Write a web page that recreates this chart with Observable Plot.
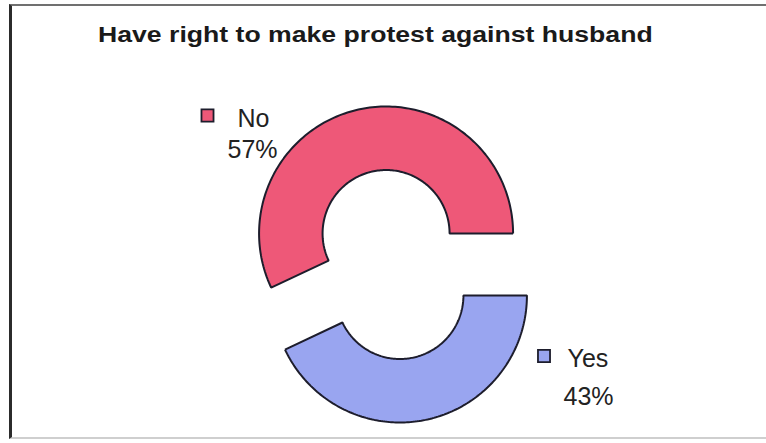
<!DOCTYPE html>
<html><head><meta charset="utf-8">
<script src="https://cdn.jsdelivr.net/npm/d3@7"></script>
<script src="https://cdn.jsdelivr.net/npm/@observablehq/plot@0.6"></script>
<style>
body{margin:0;background:#fff;}
#wrap{position:relative;width:766px;height:443px;overflow:hidden;font-family:"Liberation Sans",Arial,sans-serif;background:#fff;}
#frame{position:absolute;left:9px;top:4px;width:790px;height:435px;border-left:3px solid #2b2b2b;border-top:2px solid #707070;border-bottom:2px solid #cfcfcf;box-sizing:border-box;}
#title{position:absolute;left:98px;top:24px;font-weight:bold;font-size:22px;line-height:22px;transform:scaleX(1.21);transform-origin:left top;white-space:nowrap;color:#1a1a1a;}
#chart{position:absolute;left:0;top:60px;}
</style></head>
<body>
<div id="wrap">
  <div id="frame"></div>
  <div id="title">Have right to make protest against husband</div>
  <div id="chart"></div>
</div>
<script>
// ---- data ----
const categories = ["No", "Yes"];
const values = [57, 43];
const colors = ["#ee5878", "#99a5f0"];

// ---- layout ----
const W = 766, H = 383;
const CX = 392.5, CY = 204, R = 127;   // pie centre (px) and outer radius
const INNER = 0.5, EXPLODE = 0.25;     // inner radius & explode offset (fraction of R)
const toX = px => (px - CX) / R;
const toY = py => (CY - py) / R;
const labelLayout = {
  No:  {key: [207, 55],    name: [237, 66],  pct: [227, 97]},
  Yes: {key: [543.5, 295.5], name: [567, 306], pct: [563, 344]}
};

// ---- build ring sectors from values ----
const total = d3.sum(values);
let acc = 0;
const ring = [];
categories.forEach((c, i) => {
  const a0 = acc / total * 2 * Math.PI;
  acc += values[i];
  const a1 = acc / total * 2 * Math.PI;
  const mid = (a0 + a1) / 2;
  const ox = EXPLODE * Math.cos(mid), oy = EXPLODE * Math.sin(mid);
  const n = 160, pts = [];
  for (let k = 0; k <= n; k++) { const a = a0 + (a1 - a0) * k / n; pts.push({cat: c, x: ox + Math.cos(a), y: oy + Math.sin(a)}); }
  for (let k = n; k >= 0; k--) { const a = a0 + (a1 - a0) * k / n; pts.push({cat: c, x: ox + INNER * Math.cos(a), y: oy + INNER * Math.sin(a)}); }
  pts.push({...pts[0]});
  ring.push(...pts);
});

const labels = categories.map((c, i) => ({
  cat: c,
  pct: `${values[i]}%`,
  kx: toX(labelLayout[c].key[0]),  ky: toY(labelLayout[c].key[1]),
  nx: toX(labelLayout[c].name[0]), ny: toY(labelLayout[c].name[1]),
  px: toX(labelLayout[c].pct[0]),  py: toY(labelLayout[c].pct[1])
}));

const chart = Plot.plot({
  width: W, height: H, margin: 0,
  style: {background: "transparent", fontFamily: "'Liberation Sans', Arial, sans-serif", overflow: "visible"},
  x: {domain: [toX(0), toX(W)], axis: null},
  y: {domain: [toY(H), toY(0)], axis: null},
  color: {domain: categories, range: colors},
  marks: [
    Plot.line(ring, {x: "x", y: "y", z: "cat", fill: "cat", stroke: "#1d1d2c", strokeWidth: 2, strokeLinejoin: "miter", strokeLinecap: "butt"}),
    Plot.dot(labels, {x: "kx", y: "ky", fill: "cat", stroke: "#1d1d2c", strokeWidth: 1.8, symbol: "square", r: 6.8}),
    Plot.text(labels, {x: "nx", y: "ny", text: "cat", textAnchor: "start", lineAnchor: "bottom", fontSize: 25, fill: "#222"}),
    Plot.text(labels, {x: "px", y: "py", text: "pct", textAnchor: "start", lineAnchor: "bottom", fontSize: 25, fill: "#222"})
  ]
});
document.getElementById("chart").appendChild(chart);
</script>
</body></html>
